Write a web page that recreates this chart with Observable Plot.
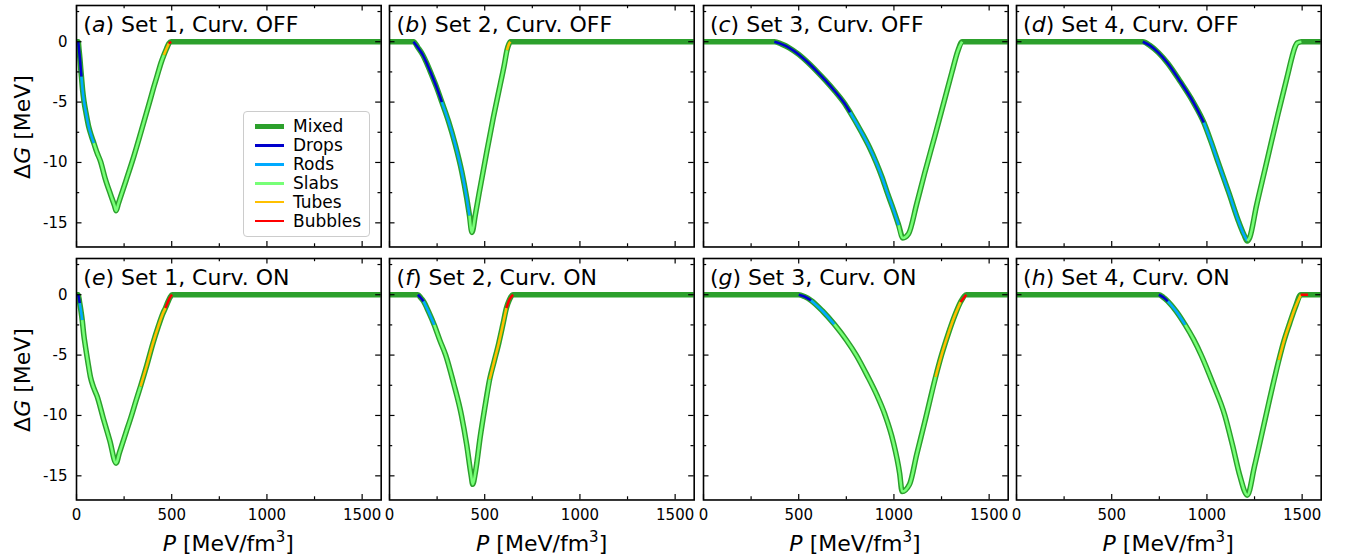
<!DOCTYPE html>
<html><head><meta charset="utf-8">
<script src="https://cdn.jsdelivr.net/npm/d3@7"></script>
<script src="https://cdn.jsdelivr.net/npm/@observablehq/plot@0.6"></script>
<style>
body{margin:0;background:#fff;font-family:"DejaVu Sans",sans-serif;}
#fig{position:relative;width:1350px;height:559px;overflow:hidden;background:#fff;}
.panel{position:absolute;}
.title{position:absolute;font-size:22px;line-height:1;white-space:nowrap;color:#000;}
.ylab{position:absolute;font-size:22px;white-space:nowrap;transform:translate(-50%,-50%) rotate(-90deg);}
.xlab{position:absolute;font-size:22px;white-space:nowrap;transform:translate(-50%,-50%);}
.xlab sup{font-size:15px;vertical-align:9px;line-height:0;}
.legend{position:absolute;border:1.2px solid #cccccc;border-radius:4px;background:rgba(255,255,255,0.85);box-sizing:border-box;}
.legrow{position:absolute;left:0;height:19px;font-size:17px;line-height:19px;white-space:nowrap;}
.legline{position:absolute;left:11px;width:29px;}
.legtext{position:absolute;left:49px;top:0;}
</style></head><body><div id="fig"></div>
<script>
// ---- data (P in MeV/fm^3, ΔG in MeV, phase: M=mixed only, D=drops, R=rods, S=slabs, T=tubes, B=bubbles) ----
const titles = [
  ["a","Set 1, Curv. OFF"],["b","Set 2, Curv. OFF"],["c","Set 3, Curv. OFF"],["d","Set 4, Curv. OFF"],
  ["e","Set 1, Curv. ON"],["f","Set 2, Curv. ON"],["g","Set 3, Curv. ON"],["h","Set 4, Curv. ON"]
];
const legendLabels = ["Mixed","Drops","Rods","Slabs","Tubes","Bubbles"];
const phaseCodes = ["M","D","R","S","T","B"];
const phaseColors = ["#2ca02c","#0000cc","#00aaff","#77ff77","#ffc000","#ff0000"];
const xMajor = [0,500,1000,1500];
const xMinor = [250,750,1250];
const yMajor = [0,-5,-10,-15];
const yMinor = [2.5,-2.5,-7.5,-12.5];

const curveA = [[0,0,"M"],[9,0,"D"],[13,-0.6,"D"],[18,-1.4,"D"],[22,-2.2,"D"],[26,-2.9,"R"],[32,-4.0,"R"],[39,-4.9,"R"],[50,-5.9,"R"],[65,-7.1,"R"],[78,-7.8,"R"],[91,-8.4,"S"],[108,-9.2,"S"],[126,-9.9,"S"],[150,-11.3,"S"],[180,-12.7,"S"],[200,-13.6,"S"],[208,-14.0,"S"],[220,-13.4,"S"],[260,-11.5,"S"],[301,-9.5,"S"],[340,-7.4,"S"],[380,-5.2,"S"],[405,-3.8,"S"],[424,-2.8,"S"],[445,-1.7,"S"],[459,-1.1,"T"],[472,-0.6,"T"],[485,-0.15,"B"],[497,0,"M"],[1600,0,"M"]];
const curveB = [[0,0,"M"],[126,0,"D"],[150,-0.5,"D"],[175,-1.1,"D"],[196,-1.8,"D"],[220,-2.7,"D"],[248,-3.8,"D"],[275,-5.0,"R"],[310,-6.6,"R"],[345,-8.5,"R"],[380,-10.8,"R"],[405,-12.9,"R"],[420,-14.4,"S"],[433,-15.8,"S"],[450,-14.4,"S"],[470,-12.6,"S"],[512,-9.0,"S"],[545,-6.3,"S"],[582,-3.5,"S"],[603,-1.9,"S"],[617,-0.7,"T"],[627,-0.2,"T"],[635,0,"M"],[1600,0,"M"]];
const curveC = [[0,0,"M"],[372,0,"D"],[410,-0.2,"D"],[450,-0.5,"D"],[500,-1.05,"D"],[547,-1.7,"D"],[595,-2.45,"D"],[640,-3.2,"D"],[690,-4.1,"D"],[740,-5.1,"D"],[770,-5.85,"R"],[830,-7.5,"R"],[870,-8.7,"R"],[907,-10.0,"R"],[937,-11.2,"R"],[965,-12.5,"R"],[995,-13.8,"R"],[1025,-15.2,"S"],[1047,-16.25,"S"],[1077,-15.9,"S"],[1120,-13.4,"S"],[1161,-10.9,"S"],[1215,-7.8,"S"],[1266,-4.8,"S"],[1305,-2.5,"S"],[1337,-0.7,"S"],[1358,0,"M"],[1600,0,"M"]];
const curveD = [[0,0,"M"],[663,0,"D"],[700,-0.3,"D"],[745,-0.9,"D"],[795,-1.8,"D"],[860,-3.3,"D"],[928,-5.0,"D"],[984,-6.7,"R"],[1022,-8.3,"R"],[1059,-10.0,"R"],[1115,-12.5,"R"],[1169,-15.0,"R"],[1195,-16.0,"R"],[1212,-16.5,"S"],[1225,-16.2,"S"],[1260,-13.6,"S"],[1303,-10.7,"S"],[1340,-8.2,"S"],[1373,-6.0,"S"],[1420,-3.0,"S"],[1448,-1.2,"S"],[1461,-0.5,"S"],[1475,-0.1,"S"],[1496,0,"M"],[1600,0,"M"]];
const curveE = [[0,0,"M"],[9,0,"D"],[13,-0.3,"D"],[17,-0.7,"R"],[23,-1.3,"R"],[30,-2.1,"S"],[38,-3.3,"S"],[47,-4.3,"S"],[60,-5.6,"S"],[73,-6.8,"S"],[90,-7.7,"S"],[108,-8.4,"S"],[140,-10.2,"S"],[175,-12.1,"S"],[208,-13.95,"S"],[225,-13.1,"S"],[260,-11.4,"S"],[289,-10.0,"S"],[312,-8.8,"S"],[336,-7.6,"T"],[370,-5.8,"T"],[400,-4.1,"T"],[430,-2.6,"T"],[455,-1.5,"T"],[467,-1.1,"B"],[480,-0.6,"B"],[492,-0.2,"B"],[502,0,"M"],[1600,0,"M"]];
const curveF = [[0,0,"M"],[149,0,"D"],[164,-0.25,"D"],[179,-0.55,"R"],[205,-1.4,"R"],[235,-2.5,"S"],[265,-3.8,"S"],[295,-5.0,"S"],[336,-7.3,"S"],[378,-10.0,"S"],[405,-12.4,"S"],[429,-15.0,"S"],[437,-15.7,"S"],[452,-14.6,"S"],[477,-11.7,"S"],[500,-9.4,"S"],[526,-7.0,"T"],[550,-5.5,"T"],[574,-4.0,"T"],[595,-2.5,"T"],[614,-1.1,"B"],[630,-0.4,"B"],[649,0,"M"],[1600,0,"M"]];
const curveG = [[0,0,"M"],[500,0,"D"],[530,-0.15,"D"],[565,-0.47,"R"],[625,-1.35,"R"],[687,-2.45,"S"],[750,-3.75,"S"],[802,-5.0,"S"],[860,-6.7,"S"],[910,-8.3,"S"],[952,-9.9,"S"],[995,-12.1,"S"],[1030,-14.8,"S"],[1043,-16.3,"S"],[1082,-15.7,"S"],[1120,-13.2,"S"],[1161,-10.6,"S"],[1219,-6.8,"T"],[1250,-5.0,"T"],[1284,-3.3,"T"],[1320,-1.7,"T"],[1350,-0.6,"B"],[1380,0,"M"],[1600,0,"M"]];
const curveH = [[0,0,"M"],[747,0,"D"],[770,-0.2,"D"],[795,-0.55,"R"],[840,-1.4,"R"],[886,-2.5,"S"],[930,-3.7,"S"],[970,-5.0,"S"],[1030,-7.3,"S"],[1094,-10.0,"S"],[1135,-12.5,"S"],[1173,-15.0,"S"],[1212,-16.6,"S"],[1250,-14.2,"S"],[1286,-11.7,"S"],[1330,-8.6,"S"],[1378,-5.4,"T"],[1405,-3.8,"T"],[1435,-2.35,"T"],[1465,-1.0,"T"],[1493,0,"B"],[1531,0,"M"],[1600,0,"M"]];
const curves = [curveA,curveB,curveC,curveD,curveE,curveF,curveG,curveH];

// ---- layout ----
const colLeft = [76, 389.3, 702.6, 1015.8];
const rowTop = [5, 258.2];
const W = 304.7, H = 241.5;
const fig = document.getElementById("fig");
const colorOf = Object.fromEntries(phaseCodes.map((c,i)=>[c,phaseColors[i]]));

function build(curve){
  const pts = curve.map(([P,G,ph])=>({P,G,ph}));
  const segs = []; let segId = 0;
  for (let i=0;i<pts.length-1;i++){
    const ph = pts[i].ph;
    if (ph==="M") continue;
    if (i===0 || pts[i-1].ph!==ph) segId++;
    segs.push({P:pts[i].P,G:pts[i].G,ph,seg:segId});
    if (pts[i+1].ph!==ph) segs.push({P:pts[i+1].P,G:pts[i+1].G,ph,seg:segId});
  }
  return {pts, segs};
}

curves.forEach((curve, k) => {
  const r = Math.floor(k/4), c = k%4;
  const {pts, segs} = build(curve);
  const tk = {stroke:"black", strokeWidth:1.2};
  const marks = [
    Plot.line(pts, {x:"P", y:"G", stroke:phaseColors[0], strokeWidth:5.5, curve:"monotone-x", strokeLinejoin:"round", strokeLinecap:"butt", clip:true}),
    ...phaseCodes.slice(1).map(ph => Plot.line(segs.filter(s=>s.ph===ph), {x:"P", y:"G", z:"seg", stroke:colorOf[ph], strokeWidth:2.6, curve:"monotone-x", strokeLinejoin:"round", strokeLinecap:"butt", clip:true})),
    Plot.tickX(xMajor, {x:d=>d, insetTop:H-5.5, ...tk}),
    Plot.tickX(xMajor, {x:d=>d, insetBottom:H-5.5, ...tk}),
    Plot.tickX(xMinor, {x:d=>d, insetTop:H-3.2, ...tk}),
    Plot.tickX(xMinor, {x:d=>d, insetBottom:H-3.2, ...tk}),
    Plot.tickY(yMajor, {y:d=>d, insetRight:W-5.5, ...tk}),
    Plot.tickY(yMajor, {y:d=>d, insetLeft:W-5.5, ...tk}),
    Plot.tickY(yMinor, {y:d=>d, insetRight:W-3.2, ...tk}),
    Plot.tickY(yMinor, {y:d=>d, insetLeft:W-3.2, ...tk}),
    Plot.frame({stroke:"black", strokeWidth:1.6})
  ];
  if (c===0) marks.push(Plot.axisY(yMajor, {anchor:"left", tickSize:0, tickPadding:9, label:null, tickFormat:d=>String(d), fontSize:15}));
  if (r===1) marks.push(Plot.axisX(xMajor, {anchor:"bottom", tickSize:0, tickPadding:9, label:null, tickFormat:d=>String(d), fontSize:15}));
  const svg = Plot.plot({
    width: W, height: H,
    marginTop:0, marginRight:0, marginBottom:0, marginLeft:0,
    x: {domain:[0,1600], axis:null},
    y: {domain:[-17,3], axis:null},
    style: {overflow:"visible", background:"transparent", fontFamily:"DejaVu Sans, sans-serif", fontSize:"15px", color:"black"},
    marks
  });
  const div = document.createElement("div");
  div.className = "panel";
  div.style.left = colLeft[c]+"px"; div.style.top = rowTop[r]+"px";
  div.style.width = W+"px"; div.style.height = H+"px";
  div.appendChild(svg);
  fig.appendChild(div);

  const t = document.createElement("div");
  t.className = "title";
  t.style.left = (colLeft[c]+7.3)+"px";
  t.style.top = (rowTop[r]+9)+"px";
  t.innerHTML = `(<i>${titles[k][0]}</i>) ${titles[k][1]}`;
  fig.appendChild(t);

  if (c===0) {
    const yl = document.createElement("div");
    yl.className = "ylab";
    yl.style.left = "22px"; yl.style.top = (rowTop[r]+H/2+1)+"px";
    yl.innerHTML = "Δ<i>G</i> [MeV]";
    fig.appendChild(yl);
  }
  if (r===1) {
    const xl = document.createElement("div");
    xl.className = "xlab";
    xl.style.left = (colLeft[c]+W/2)+"px"; xl.style.top = "543px";
    xl.innerHTML = "<i>P</i> [MeV/fm<sup>3</sup>]";
    fig.appendChild(xl);
  }
});

// ---- legend in panel (a) ----
const leg = document.createElement("div");
leg.className = "legend";
leg.style.left = "243px"; leg.style.top = "111px"; leg.style.width = "127px"; leg.style.height = "126px";
legendLabels.forEach((lab, i) => {
  const row = document.createElement("div");
  row.className = "legrow";
  row.style.top = (5 + i*18.9)+"px";
  row.style.width = "125px";
  const ln = document.createElement("div");
  ln.className = "legline";
  const th = i===0 ? 5.5 : 2.8;
  ln.style.height = th+"px"; ln.style.top = (9.5 - th/2)+"px";
  ln.style.background = phaseColors[i];
  const tx = document.createElement("div");
  tx.className = "legtext"; tx.textContent = lab;
  row.appendChild(ln); row.appendChild(tx);
  leg.appendChild(row);
});
fig.appendChild(leg);
</script>
</body></html>
